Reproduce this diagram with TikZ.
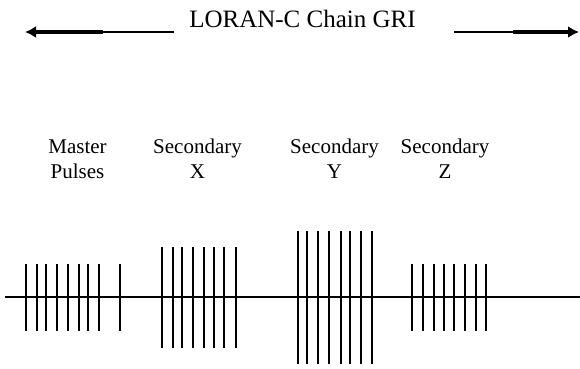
\documentclass[tikz,border=0pt]{standalone}
\usepackage{fontspec}
\setmainfont{Liberation Serif}
\usetikzlibrary{arrows.meta}
\begin{document}
\begin{tikzpicture}[x=1pt,y=-1pt,
  pulse/.style={line width=2pt},
  axisline/.style={line width=1.6pt},
  lbl/.style={font=\fontsize{21}{25}\selectfont, align=center, inner sep=0pt, anchor=base},
  thin/.style={line width=1.8pt},
  thick/.style={line width=4pt, -{Latex[length=11pt,width=12pt]}}]
\useasboundingbox (0,0) rectangle (580,368);
% title
\node[font=\fontsize{25}{30}\selectfont, inner sep=0pt, anchor=base] (title) at (302.5,27) {LORAN-C Chain GRI};
% arrows
\coordinate (la1) at (174,32);
\coordinate (la2) at (103,32);
\coordinate (la3) at (25,32);
\coordinate (ra1) at (454,32);
\coordinate (ra2) at (513,32);
\coordinate (ra3) at (579,32);
\draw[thin] (la1) -- (la2);
\draw[thick] (la2) -- (la3);
\draw[thin] (ra1) -- (ra2);
\draw[thick] (ra2) -- (ra3);
% labels
\node[lbl] (m1) at (77.5,153) {Master};
\node[lbl] (m2) at (77.5,178) {Pulses};
\node[lbl] (x1) at (197.5,153) {Secondary};
\node[lbl] (x2) at (197.5,178) {X};
\node[lbl] (y1) at (334.5,153) {Secondary};
\node[lbl] (y2) at (334.5,178) {Y};
\node[lbl] (z1) at (445,153) {Secondary};
\node[lbl] (z2) at (445,178) {Z};
% axis
\coordinate (ax0) at (5,297);
\coordinate (ax1) at (580,297);
\draw[axisline] (ax0) -- (ax1);
% pulses
\foreach \x in {25.7,36.7,46,57.3,68.3,79.3,88.3,99.3,120}
  \draw[pulse] (\x,264) -- (\x,331);
\foreach \x in {162.3,173,182.3,193,204.3,213.7,224.3,235.7}
  \draw[pulse] (\x,247) -- (\x,348);
\foreach \x in {298.3,307.3,318,329.3,340.7,350,360.7,371.7}
  \draw[pulse] (\x,231) -- (\x,364);
\foreach \x in {412.3,423,434,443.7,454.3,465,475.7,485.7}
  \draw[pulse] (\x,264) -- (\x,331);
\end{tikzpicture}
\end{document}
